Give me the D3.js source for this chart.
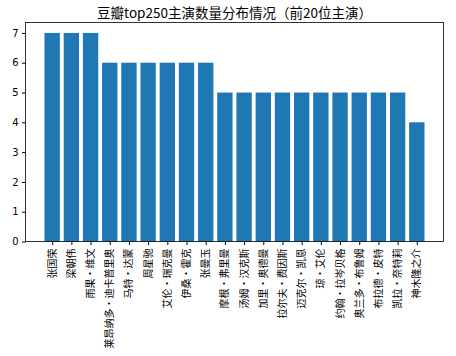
<!DOCTYPE html>
<html><head><meta charset="utf-8">
<script src="https://cdn.jsdelivr.net/npm/d3@7"></script>
<style>body{margin:0;background:#fff}svg{display:block}</style>
</head><body>
<script>
const actors = ["张国荣","梁朝伟","雨果·维文","莱昂纳多·迪卡普里奥","马特·达蒙","周星驰","艾伦·瑞克曼","伊桑·霍克","张曼玉","摩根·弗里曼","汤姆·汉克斯","加里·奥德曼","拉尔夫·费因斯","迈克尔·凯恩","琼·艾伦","约翰·拉岑贝格","奥兰多·布鲁姆","布拉德·皮特","凯拉·奈特莉","神木隆之介"];
const counts = [7,7,7,6,6,6,6,6,6,5,5,5,5,5,5,5,5,5,5,4];
const yTicks = [0,1,2,3,4,5,6,7];
const title = "豆瓣top250主演数量分布情况（前20位主演）";

const W = 456, H = 356;
const L = 25.5, R = 443.5, T = 22.5, B = 241.5;
const font = "'Noto Sans CJK SC', sans-serif";
const svg = d3.select("body").append("svg").attr("width", W).attr("height", H);

const n = actors.length;
const x = d3.scaleLinear().domain([-0.4 - 0.99, n - 1 + 0.4 + 0.99]).range([L, R]);
const y = d3.scaleLinear().domain([0, 7.35]).range([B, T]);

svg.append("g").selectAll("rect").data(counts).join("rect")
  .attr("x", (d,i) => x(i - 0.4)).attr("width", x(0.8) - x(0))
  .attr("y", d => y(d)).attr("height", d => y(0) - y(d))
  .attr("fill", "#1f77b4");

const ya = svg.append("g").attr("transform", `translate(${L},0)`)
  .call(d3.axisLeft(y).tickValues(yTicks).tickSize(3.5).tickPadding(3.5).tickFormat(d3.format("d")));
ya.select(".domain").remove();
ya.selectAll("text").attr("font-family", "'DejaVu Sans', sans-serif").attr("font-size", 10).attr("fill", "#000");

const xa = svg.append("g").attr("transform", `translate(0,${B})`)
  .call(d3.axisBottom(x).tickValues(d3.range(n)).tickSize(3.5).tickFormat(() => ""));
xa.select(".domain").remove();

svg.append("g").selectAll("text").data(actors).join("text")
  .attr("transform", (d,i) => `translate(${x(i) + 3.5},${B + 7}) rotate(-90)`)
  .attr("text-anchor", "end")
  .attr("font-family", font).attr("font-size", 10).attr("fill", "#000")
  .text(d => d);

svg.append("rect").attr("x", L).attr("y", T).attr("width", R - L).attr("height", B - T)
  .attr("fill", "none").attr("stroke", "#000").attr("stroke-width", 0.8);

svg.append("text").attr("x", (L + R) / 2).attr("y", 17.5).attr("text-anchor", "middle")
  .attr("font-family", font).attr("font-size", 13.5).attr("fill", "#000").text(title);
</script>
</body></html>
